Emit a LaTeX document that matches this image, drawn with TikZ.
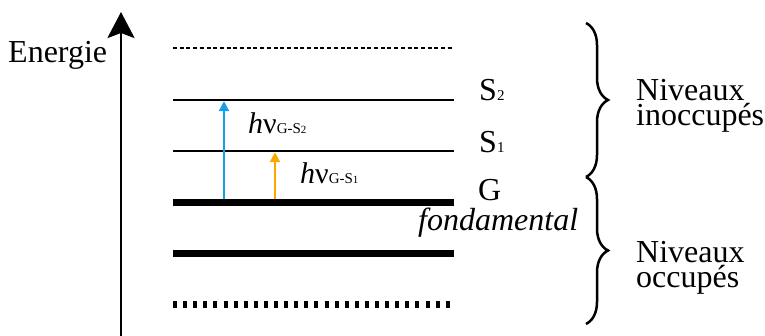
\documentclass[tikz,border=0pt]{standalone}
\usepackage{fontspec}
\setmainfont{Liberation Serif}
\newfontfamily\tms{Liberation Serif}
\usetikzlibrary{arrows.meta,decorations.pathreplacing}
\begin{document}
\begin{tikzpicture}[x=1pt,y=-1pt,
  txt/.style={inner sep=0pt,font=\tms\fontsize{32}{25}\selectfont},
  thinlvl/.style={line width=2.5pt},
  thicklvl/.style={line width=7pt},
  brc/.style={decorate,decoration={brace,amplitude=22pt},line width=2.5pt},
  exc/.style={line width=2.2pt,-{Triangle[width=10pt,length=10pt]}}]
\useasboundingbox (0,0) rectangle (765,335);
% axis
\coordinate (ax0) at (121,336);
\coordinate (ax1) at (121,12);
\draw[line width=2.7pt,-{Stealth[width=27pt,length=26pt,inset=5pt]}] (ax0) -- (ax1);
\node[txt,anchor=base west] (en) at (8,62) {Energie};
% levels
\coordinate (Ta) at (173,48);  \coordinate (Tb) at (454,48);
\coordinate (S2a) at (173,100); \coordinate (S2b) at (454,100);
\coordinate (S1a) at (173,151); \coordinate (S1b) at (454,151);
\coordinate (Ga) at (173,202); \coordinate (Gb) at (454,202);
\coordinate (Oa) at (173,253); \coordinate (Ob) at (454,253);
\coordinate (Ba) at (173,304); \coordinate (Bb) at (454,304);
\draw[line width=2.3pt,dash pattern=on 4pt off 2.7pt] (Ta) -- (Tb);
\draw[thinlvl] (S2a) -- (S2b);
\draw[thinlvl] (S1a) -- (S1b);
\draw[thicklvl] (Ga) -- (Gb);
\draw[thicklvl] (Oa) -- (Ob);
\draw[line width=7pt,dash pattern=on 4pt off 6.1pt] (Ba) -- (Bb);
% excitation arrows
\coordinate (bl0) at (224,198.5); \coordinate (bl1) at (224,101.2);
\coordinate (or0) at (275,198.5); \coordinate (or1) at (275,152.2);
\draw[exc,color={rgb,255:red,20;green,160;blue,230}] (bl0) -- (bl1);
\draw[exc,color={rgb,255:red,255;green,165;blue,0}] (or0) -- (or1);
\node[txt,anchor=base west,font=\tms\fontsize{30}{30}\selectfont] (h2) at (248,133)
  {\textit{h}ν\fontsize{15}{15}\selectfont G-S\fontsize{11}{11}\selectfont 2};
\node[txt,anchor=base west,font=\tms\fontsize{30}{30}\selectfont] (h1) at (300,183)
  {\textit{h}ν\fontsize{15}{15}\selectfont G-S\fontsize{11}{11}\selectfont 1};
% level labels
\node[txt,anchor=base west] (ls2) at (479,100) {S{\fontsize{15}{15}\selectfont 2}};
\node[txt,anchor=base west] (ls1) at (479,152) {S{\fontsize{15}{15}\selectfont 1}};
\node[txt,anchor=base west] (lg) at (478,200) {G};
\node[txt,anchor=base west] (lf) at (418,230) {\textit{fondamental}};
% braces
\coordinate (b1t) at (586,23); \coordinate (b1b) at (586,177);
\coordinate (b2t) at (586,177); \coordinate (b2b) at (586,324);
\draw[brc] (b1t) -- (b1b);
\draw[brc] (b2t) -- (b2b);
\node[txt,anchor=base west,align=left] (n1) at (636,125) {Niveaux\\inoccupés};
\node[txt,anchor=base west,align=left] (n2) at (636,287) {Niveaux\\occupés};
\end{tikzpicture}
\end{document}
